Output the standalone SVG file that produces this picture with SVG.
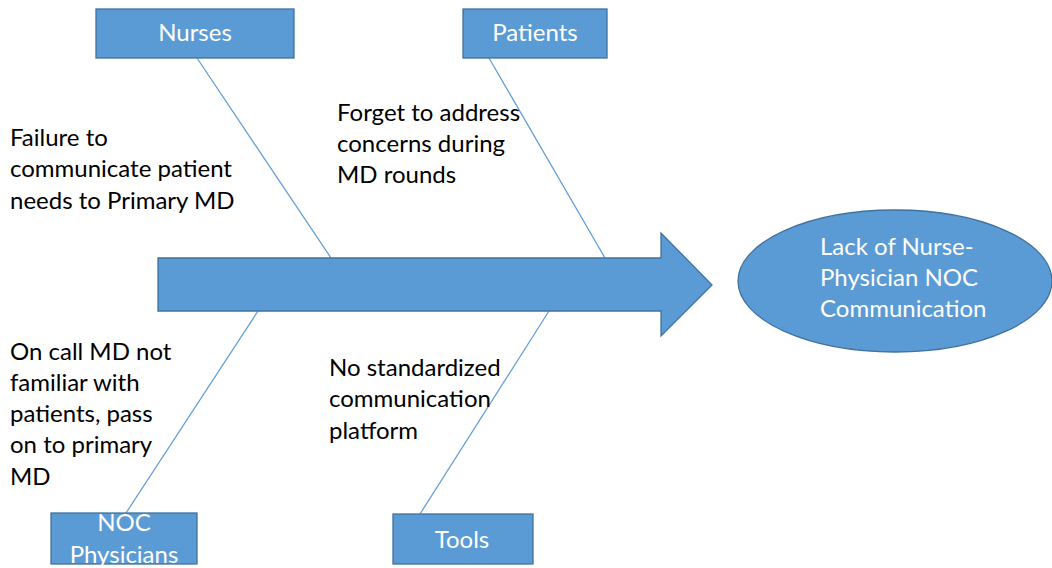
<svg xmlns="http://www.w3.org/2000/svg" width="1052" height="568" viewBox="0 0 1052 568">
<style>
.box{fill:#5b9bd5;stroke:#41719c;stroke-width:1.3}
.wt{fill:#ffffff;font-family:Lato,"Liberation Sans",sans-serif;font-size:24px;text-anchor:middle}
.bt{fill:#000000;font-family:Lato,"Liberation Sans",sans-serif;font-size:24px}
.ln{stroke:#5b9bd5;stroke-width:1.2;fill:none}
</style>
<rect width="1052" height="568" fill="#ffffff"/>
<g id="connectors">
<line class="ln" x1="197" y1="58" x2="331" y2="258"/>
<line class="ln" x1="489" y1="58" x2="605" y2="258"/>
<line class="ln" x1="258" y1="311" x2="126" y2="513"/>
<line class="ln" x1="549" y1="311" x2="420" y2="514"/>
</g>
<g id="spine">
<polygon class="box" points="158,258 661,258 661,233 712,285 661,336 661,311 158,311"/>
</g>
<g id="effect">
<ellipse class="box" cx="895" cy="281" rx="157" ry="71"/>
<text class="wt" style="text-anchor:start" x="820" y="255">Lack of Nurse-</text>
<text class="wt" style="text-anchor:start" x="820" y="286">Physician NOC</text>
<text class="wt" style="text-anchor:start" x="820" y="317">Communication</text>
</g>
<g id="nurses">
<rect class="box" x="96" y="9" width="198" height="49"/>
<text class="wt" x="195" y="41">Nurses</text>
</g>
<g id="patients">
<rect class="box" x="463" y="9" width="144" height="49"/>
<text class="wt" x="535" y="41">Patients</text>
</g>
<g id="noc-physicians">
<rect class="box" x="51" y="513" width="146" height="51"/>
<text class="wt" x="124" y="531">NOC</text>
<text class="wt" x="124" y="563">Physicians</text>
</g>
<g id="tools">
<rect class="box" x="393" y="514" width="140" height="50"/>
<text class="wt" x="462" y="548">Tools</text>
</g>
<g id="cause-nurses">
<text class="bt" x="10" y="146">Failure to</text>
<text class="bt" x="10" y="177">communicate patient</text>
<text class="bt" x="10" y="209">needs to Primary MD</text>
</g>
<g id="cause-patients">
<text class="bt" x="337" y="121">Forget to address</text>
<text class="bt" x="337" y="152">concerns during</text>
<text class="bt" x="337" y="183">MD rounds</text>
</g>
<g id="cause-noc">
<text class="bt" x="10" y="360">On call MD not</text>
<text class="bt" x="10" y="391">familiar with</text>
<text class="bt" x="10" y="422">patients, pass</text>
<text class="bt" x="10" y="453">on to primary</text>
<text class="bt" x="10" y="485">MD</text>
</g>
<g id="cause-tools">
<text class="bt" x="329" y="376">No standardized</text>
<text class="bt" x="329" y="407">communication</text>
<text class="bt" x="329" y="439">platform</text>
</g>
</svg>
